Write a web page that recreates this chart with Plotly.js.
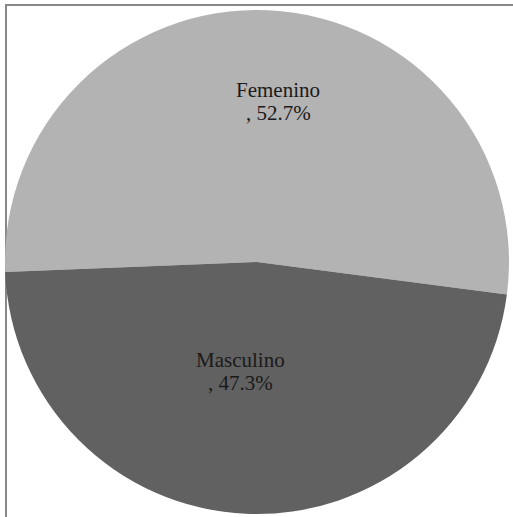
<!DOCTYPE html>
<html>
<head>
<meta charset="utf-8">
<script src="https://cdn.plot.ly/plotly-3.0.1.min.js"></script>
<style>
  html, body { margin: 0; padding: 0; background: #fff; }
  #frame { position: absolute; left: 5px; top: 4px; width: 508px; height: 513px;
           border-left: 2px solid #888; border-top: 2px solid #888; box-sizing: border-box; }
  #chart { position: absolute; left: 0; top: 0; width: 513px; height: 517px; }
</style>
</head>
<body>
<div id="frame"></div>
<div id="chart"></div>
<script>
const labels = ["Femenino", "Masculino"];
const values = [52.7, 47.3];
const colors = ["#b3b3b3", "#616161"];

const W = 513, H = 517;
const cx = 257, cy = 262, r = 252;

// label centre positions (pixels) for each slice: [x, y of name line]
const labelPos = [[278, 90], [240, 360]];
const lineGap = 23;

const font = { family: "Liberation Serif, Times New Roman, serif", size: 21, color: "#1a1a1a" };
const annotations = [];
labels.forEach((l, i) => {
  const [px, py] = labelPos[i];
  annotations.push({
    text: l, x: px / W, y: 1 - py / H, xref: "paper", yref: "paper",
    showarrow: false, font: font, xanchor: "center", yanchor: "middle"
  });
  annotations.push({
    text: ", " + values[i].toFixed(1) + "%", x: px / W, y: 1 - (py + lineGap) / H,
    xref: "paper", yref: "paper", showarrow: false, font: font,
    xanchor: "center", yanchor: "middle"
  });
});

const data = [{
  type: "pie",
  labels: labels,
  values: values,
  sort: false,
  direction: "clockwise",
  rotation: -92.3,
  marker: { colors: colors, line: { width: 0 } },
  textinfo: "none",
  hoverinfo: "label+percent",
  domain: { x: [(cx - r) / W, (cx + r) / W], y: [1 - (cy + r) / H, 1 - (cy - r) / H] }
}];

const layout = {
  width: W, height: H,
  margin: { l: 0, r: 0, t: 0, b: 0 },
  paper_bgcolor: "rgba(0,0,0,0)",
  showlegend: false,
  annotations: annotations
};

Plotly.newPlot("chart", data, layout, { displayModeBar: false, staticPlot: true });
</script>
</body>
</html>
